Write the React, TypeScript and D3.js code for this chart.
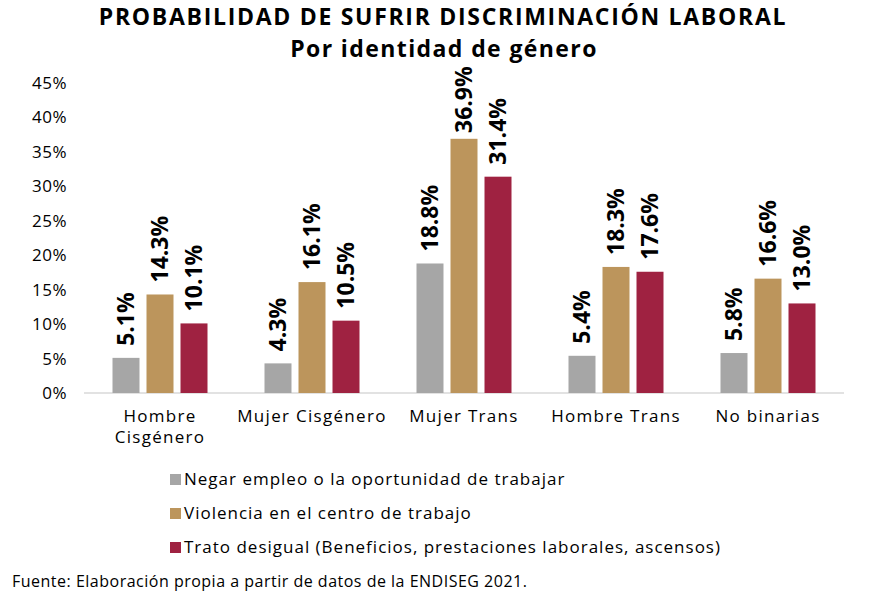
import React from "react";
import * as d3 from "d3";

const categories = [["Hombre", "Cisgénero"], ["Mujer Cisgénero"], ["Mujer Trans"], ["Hombre Trans"], ["No binarias"]];
const categoryKeys = ["Hombre Cisgénero", "Mujer Cisgénero", "Mujer Trans", "Hombre Trans", "No binarias"];
const seriesNames = [
  "Negar empleo o la oportunidad de trabajar",
  "Violencia en el centro de trabajo",
  "Trato desigual (Beneficios, prestaciones laborales, ascensos)",
];
const negar = [5.1, 4.3, 18.8, 5.4, 5.8];
const violencia = [14.3, 16.1, 36.9, 18.3, 16.6];
const trato = [10.1, 10.5, 31.4, 17.6, 13.0];
const seriesValues = [negar, violencia, trato];
const colors = ["#A6A6A6", "#BC955C", "#9F2241"];
const yTicks = [0, 5, 10, 15, 20, 25, 30, 35, 40, 45];

const FONT = "'Open Sans', 'DejaVu Sans', sans-serif";

export default function App() {
  const W = 885, H = 607;
  const y = d3.scaleLinear().domain([0, 45]).range([393, 83]);
  const x0 = d3.scaleBand().domain(categoryKeys).range([84, 844]);
  const x1 = d3.scaleBand().domain(seriesNames).range([-47.5, 47.5]).paddingInner(0.206);

  return (
    <svg width={W} height={H} style={{ position: "absolute", left: 0, top: 0, background: "#fff" }} fontFamily={FONT}>
      <rect width={W} height={H} fill="#fff" />
      <text x={443} y={25} textAnchor="middle" fontWeight={700} fontSize={23} letterSpacing={1.7} fill="#000">
        PROBABILIDAD DE SUFRIR DISCRIMINACIÓN LABORAL
      </text>
      <text x={444} y={57} textAnchor="middle" fontWeight={700} fontSize={23} letterSpacing={1.4} fill="#000">
        Por identidad de género
      </text>
      {yTicks.map((t) => (
        <text key={t} x={67} y={y(t)} dy="0.35em" textAnchor="end" fontSize={17} letterSpacing={0.5} fill="#000">
          {t}%
        </text>
      ))}
      <line x1={84} x2={844} y1={y(0)} y2={y(0)} stroke="#D9D9D9" strokeWidth={1.5} />
      {categoryKeys.map((c, i) => {
        const cx = (x0(c) as number) + x0.bandwidth() / 2;
        return (
          <g key={c}>
            {seriesNames.map((s, j) => {
              const v = seriesValues[j][i];
              const bx = cx + (x1(s) as number);
              const bw = x1.bandwidth();
              const lx = bx + bw / 2;
              const ly = Math.max(y(v) - 12, 133);
              return (
                <g key={s}>
                  <rect x={bx} y={y(v)} width={bw} height={y(0) - y(v)} fill={colors[j]} />
                  <text
                    transform={`translate(${lx},${ly}) rotate(-90)`}
                    dy="0.35em"
                    textAnchor="start"
                    fontWeight={700}
                    fontSize={23}
                    fill="#000"
                  >
                    {v.toFixed(1)}%
                  </text>
                </g>
              );
            })}
            {categories[i].map((line, k) => (
              <text key={k} x={cx} y={422 + k * 21} textAnchor="middle" fontSize={17} letterSpacing={1.3} fill="#000">
                {line}
              </text>
            ))}
          </g>
        );
      })}
      {seriesNames.map((s, j) => (
        <g key={s}>
          <rect x={170} y={474 + j * 34} width={11} height={11} fill={colors[j]} />
          <text x={184} y={485 + j * 34} fontSize={17} letterSpacing={1.0} fill="#000">
            {s}
          </text>
        </g>
      ))}
      <text x={12} y={587} fontSize={16} letterSpacing={0.5} fill="#000">
        Fuente: Elaboración propia a partir de datos de la ENDISEG 2021.
      </text>
    </svg>
  );
}
